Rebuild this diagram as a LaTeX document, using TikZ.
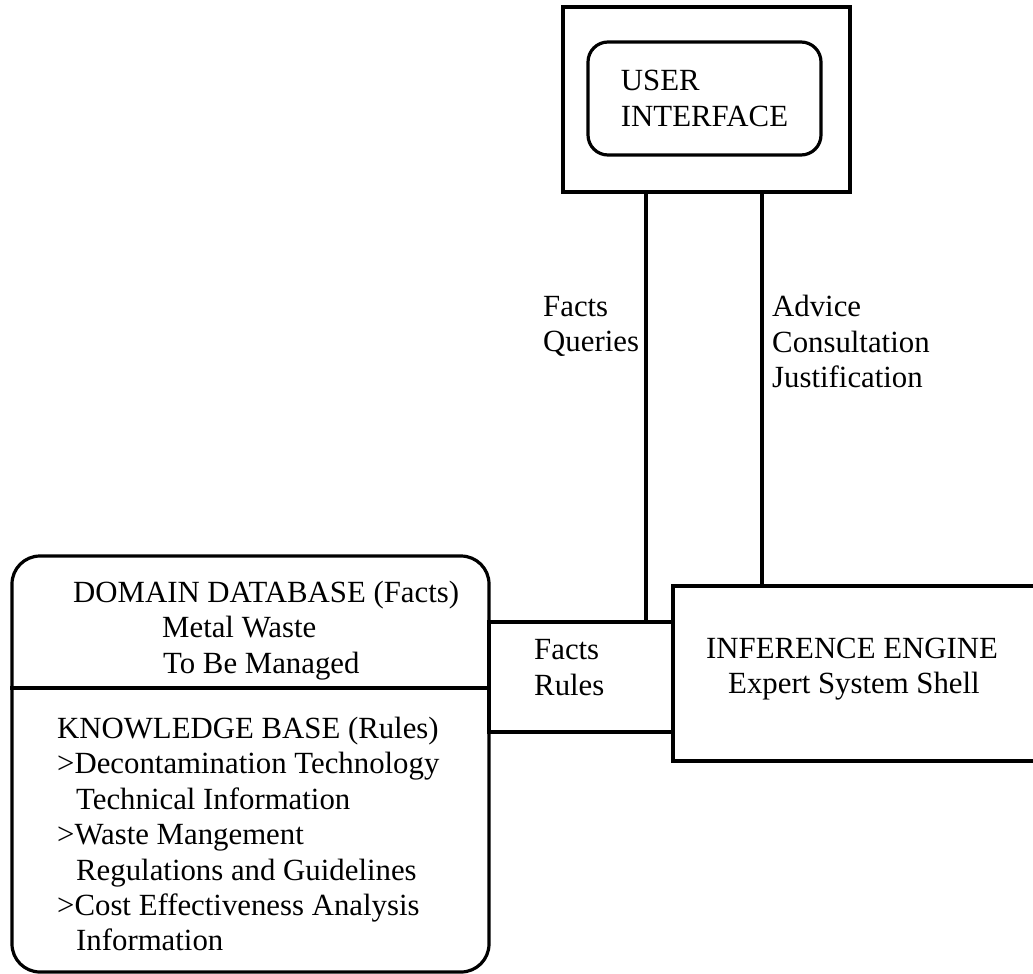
\documentclass[tikz,border=0pt]{standalone}
\usepackage{fontspec}
\setmainfont{Liberation Serif}
\begin{document}
\begin{tikzpicture}[x=1pt,y=-1pt,
  box/.style={draw, line width=3.2pt, inner sep=0pt},
  link/.style={line width=3.2pt},
  txt/.style={anchor=base west, inner sep=0pt, font=\fontsize{30.8}{35.5}\selectfont}]
\useasboundingbox (0,0) rectangle (1033,974);

% user interface block
\node[box, minimum width=287pt, minimum height=185pt] (ui) at (706.5,99.5) {};
\node[box, rounded corners=20pt, minimum width=233pt, minimum height=113pt,
      align=left, font=\fontsize{30.8}{35.5}\selectfont] (uiin) at (704.5,98.5) {USER\\INTERFACE};

% database / knowledge base block
\node[box, rounded corners=28pt, minimum width=477pt, minimum height=416pt] (db) at (250.5,764) {};
\coordinate (div) at (0,688);
\draw[link] (db.west |- div) -- (db.east |- div);

% facts / rules channel and inference engine
\node[box, minimum width=184pt, minimum height=110pt] (fr) at (581,677) {};
\node[box, minimum width=372pt, minimum height=175pt] (engine) at (859,673.5) {};

% vertical connectors
\coordinate (qx) at (646,0);
\coordinate (ax) at (762,0);
\draw[link] (ui.south -| qx) -- (fr.north -| qx);
\draw[link] (ui.south -| ax) -- (engine.north -| ax);

% texts
\foreach \px/\py/\t [count=\i] in {
  73/602/{DOMAIN DATABASE (Facts)},
  162/637/{Metal Waste},
  163/673/{To Be Managed},
  57/738/{KNOWLEDGE BASE (Rules)},
  57/773/{>Decontamination Technology},
  76/809/{Technical Information},
  57/844/{>Waste Mangement},
  76/880/{Regulations and Guidelines},
  57/915/{>Cost Effectiveness Analysis},
  76/950/{Information},
  534/659/{Facts},
  534/695/{Rules},
  706/658/{INFERENCE ENGINE},
  728/693/{Expert System Shell},
  543/316/{Facts},
  543/351/{Queries},
  772/316/{Advice},
  772/352/{Consultation},
  772/387/{Justification}}
  \node[txt] (label\i) at (\px,\py) {\t};
\end{tikzpicture}
\end{document}
